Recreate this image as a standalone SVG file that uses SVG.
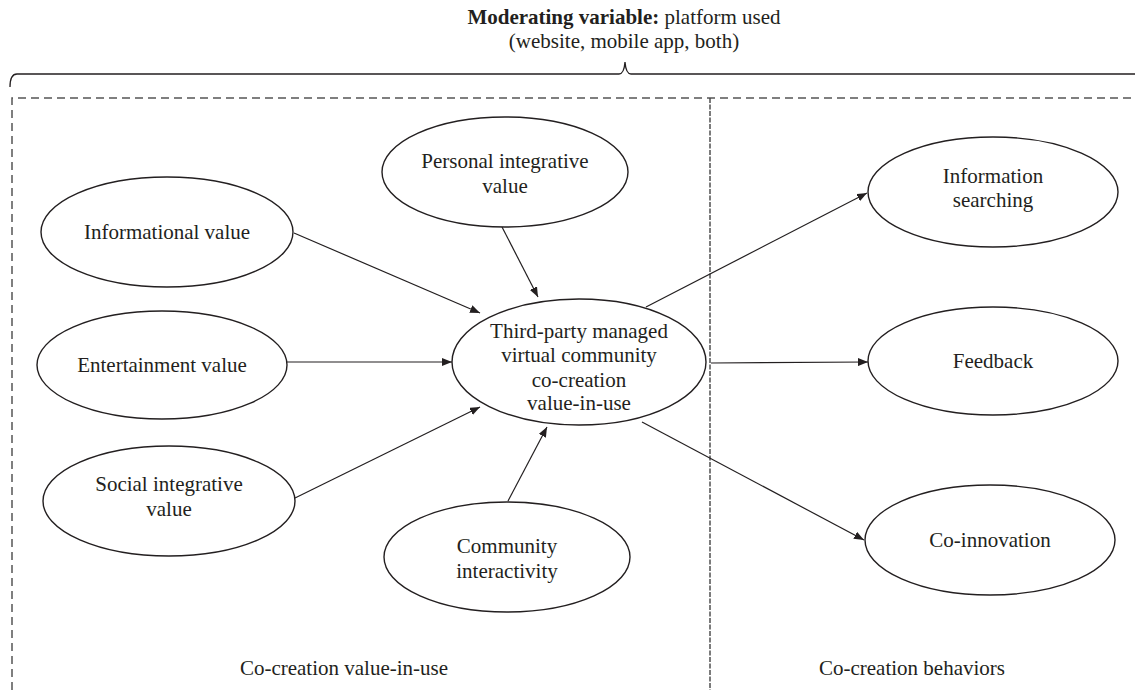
<svg xmlns="http://www.w3.org/2000/svg" width="1135" height="690" viewBox="0 0 1135 690">
  <style>
    text { font-family: "Liberation Serif", "Times New Roman", serif; font-size: 21px; fill: #231f20; text-anchor: middle; }
    .node ellipse { fill: #ffffff; stroke: #231f20; stroke-width: 1.4; }
    .edge { stroke: #231f20; stroke-width: 1.2; fill: none; marker-end: url(#arrow); }
    .frame { stroke: #555555; stroke-width: 1.5; fill: none; stroke-dasharray: 8 5; }
    .divider { stroke: #444444; stroke-width: 1.4; fill: none; stroke-dasharray: 5 1.5; }
    .brace { stroke: #231f20; stroke-width: 1.3; fill: none; }
  </style>
  <defs>
    <marker id="arrow" viewBox="0 0 10 8" refX="10" refY="4" markerWidth="10" markerHeight="8" markerUnits="userSpaceOnUse" orient="auto">
      <path d="M0,0 L10,4 L0,8 Z" fill="#231f20"/>
    </marker>
  </defs>

  <rect width="1135" height="690" fill="#ffffff"/>

  <!-- moderating variable heading and brace -->
  <g id="moderator">
    <text x="624" y="24"><tspan font-weight="bold">Moderating variable:</tspan> platform used</text>
    <text x="624" y="48">(website, mobile app, both)</text>
    <path class="brace" d="M10,87 Q10,74 17,74 L619,74 Q624,74 625,62 Q626,74 631,74 L1135,74"/>
  </g>

  <!-- dashed outline and section divider -->
  <g id="frame">
    <path class="frame" d="M12,690 L12,98 L1135,98"/>
    <line class="divider" x1="710" y1="98" x2="710" y2="690"/>
    <text x="344" y="675">Co-creation value-in-use</text>
    <text x="912" y="675">Co-creation behaviors</text>
  </g>

  <!-- connectors -->
  <g id="connectors">
    <line class="edge" x1="294" y1="233" x2="480" y2="313"/>
    <line class="edge" x1="502" y1="227" x2="538" y2="297"/>
    <line class="edge" x1="287" y1="362" x2="452" y2="362"/>
    <line class="edge" x1="295" y1="498" x2="480" y2="407"/>
    <line class="edge" x1="508" y1="501" x2="547" y2="427"/>
    <line class="edge" x1="646" y1="307" x2="867" y2="193"/>
    <line class="edge" x1="711" y1="363" x2="868" y2="362"/>
    <line class="edge" x1="642" y1="422" x2="864" y2="540"/>
  </g>

  <!-- value-in-use dimensions -->
  <g id="informational" class="node">
    <ellipse cx="167" cy="232" rx="126" ry="55"/>
    <text x="167" y="239">Informational value</text>
  </g>
  <g id="personal" class="node">
    <ellipse cx="505" cy="172" rx="123" ry="55"/>
    <text x="505" y="168">Personal integrative</text>
    <text x="505" y="193">value</text>
  </g>
  <g id="entertainment" class="node">
    <ellipse cx="162" cy="365" rx="125" ry="54"/>
    <text x="162" y="372">Entertainment value</text>
  </g>
  <g id="social" class="node">
    <ellipse cx="169" cy="501" rx="126" ry="55"/>
    <text x="169" y="491">Social integrative</text>
    <text x="169" y="516">value</text>
  </g>
  <g id="community" class="node">
    <ellipse cx="507" cy="557" rx="123" ry="55"/>
    <text x="507" y="553">Community</text>
    <text x="507" y="578">interactivity</text>
  </g>

  <!-- central construct -->
  <g id="value-in-use" class="node">
    <ellipse cx="579" cy="362" rx="127" ry="63"/>
    <text x="579" y="338">Third-party managed</text>
    <text x="579" y="362">virtual community</text>
    <text x="579" y="387">co-creation</text>
    <text x="579" y="410">value-in-use</text>
  </g>

  <!-- co-creation behaviours -->
  <g id="information-searching" class="node">
    <ellipse cx="993" cy="192" rx="125" ry="55"/>
    <text x="993" y="183">Information</text>
    <text x="993" y="207">searching</text>
  </g>
  <g id="feedback" class="node">
    <ellipse cx="993" cy="361" rx="125" ry="54"/>
    <text x="993" y="368">Feedback</text>
  </g>
  <g id="co-innovation" class="node">
    <ellipse cx="990" cy="540" rx="125" ry="55"/>
    <text x="990" y="547">Co-innovation</text>
  </g>
</svg>
